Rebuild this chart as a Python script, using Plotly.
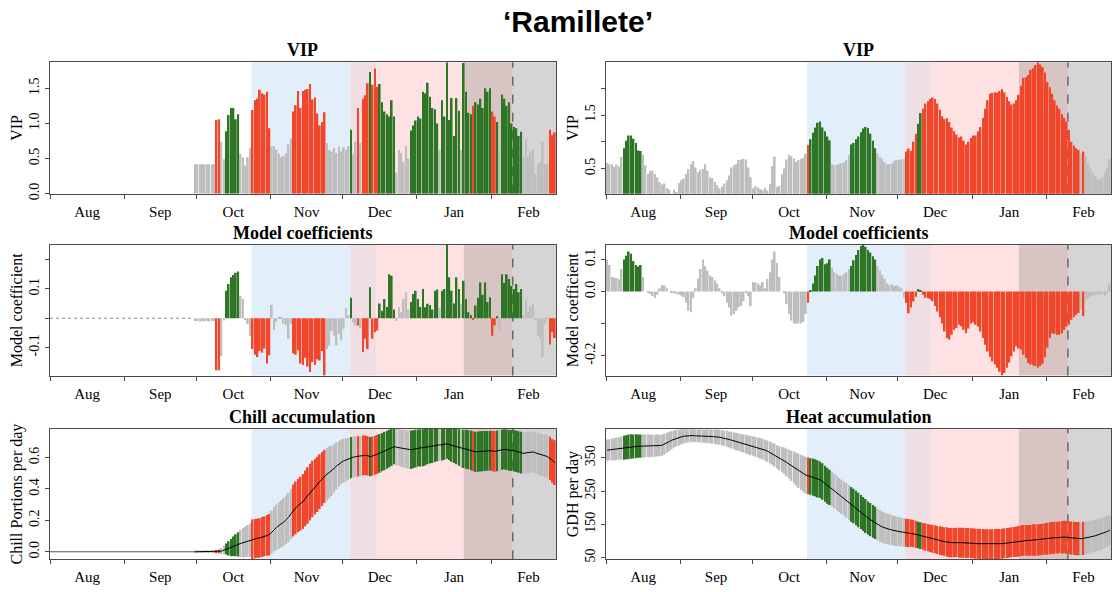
import pandas as pd
import plotly.graph_objects as go

# ---------------------------------------------------------------------------
# Season layout (days counted from 1 August)
# ---------------------------------------------------------------------------
SEASON_START = pd.Timestamp("2018-08-01")
SEASON_DAYS = 211
LEFT_FIRST_DAY = 60          # first day with chill-model results
VIP_THRESHOLD = 0.8

CHILL_PHASE = (84, 136)
FORCING_PHASE = (125, 193)
BLOOM_WINDOW = (172.5, 211)
MEAN_BLOOM = 193

# ---------------------------------------------------------------------------
# Chill model (days 60 .. 210)
# ---------------------------------------------------------------------------
VIP_LEFT = [
    0.42, 0.42, 0.42, 0.42, 0.42, 0.42, 0.42, 0.42, 0.42,
    1.05, 1.06, 0.74, 0.49,
    0.89, 1.12, 1.22, 1.22, 1.06, 1.13,
    0.57, 0.52, 0.40, 0.52, 0.65,
    1.19, 1.33, 1.35, 1.48, 1.43, 1.41, 1.45, 0.93,
    0.67, 0.68, 0.63, 0.57, 0.52, 0.54, 0.58, 0.70, 0.78,
    1.17, 1.26, 1.46, 1.22, 1.46, 1.48, 1.49, 1.56, 1.34, 1.37, 1.14, 0.97, 1.02, 1.16,
    0.72, 0.62, 0.60, 0.65, 0.58, 0.67, 0.60, 0.66, 0.62, 0.68,
    0.91, 0.56, 0.74, 1.22, 0.72, 1.35, 1.40, 1.57, 1.73, 1.55, 1.78, 1.52, 1.56, 1.30,
    1.17, 1.13, 1.10, 1.33, 1.10,
    0.30, 0.62, 0.58, 0.45, 0.68, 0.50,
    0.90, 0.97, 1.04, 1.10, 1.07, 1.45, 1.43, 1.58, 1.38, 1.22, 1.20, 1.00, 0.62, 1.33,
    1.10, 1.87, 1.05, 1.36, 0.82, 1.36, 1.18, 0.62, 1.86, 1.45,
    1.15, 1.13, 1.25, 1.30, 1.27, 1.35, 1.22, 1.50, 1.45, 1.50, 1.17, 1.10, 1.02, 0.62,
    1.41, 1.35, 1.25, 1.30, 1.00, 0.95, 0.93, 0.82, 0.88,
    0.52, 0.78, 0.52, 0.60, 0.63, 0.28, 0.42, 0.45, 0.74, 0.42, 0.43, 0.91, 0.83, 0.87,
]

COEF_LEFT = [
    -0.010, -0.010, -0.011, -0.010, -0.011, -0.010, -0.011, -0.010, -0.010,
    -0.178, -0.178, -0.130, -0.008,
    0.094, 0.117, 0.140, 0.148, 0.155, 0.160,
    0.077, 0.066, -0.006, -0.020, -0.060,
    -0.105, -0.125, -0.133, -0.112, -0.118, -0.104, -0.155, -0.127,
    0.045, -0.040, -0.012, 0.005, 0.003, -0.020, -0.025, -0.070, -0.020,
    -0.120, -0.125, -0.110, -0.155, -0.160, -0.135, -0.165, -0.184, -0.150, -0.160,
    -0.140, -0.145, -0.112, -0.196,
    -0.105, -0.093, -0.045, -0.060, -0.093, -0.053, -0.076, -0.036, 0.035, 0.010,
    0.070, -0.015, -0.025, -0.025, -0.035, -0.116, -0.070, -0.105, 0.106, -0.070,
    -0.048, -0.042, 0.050, 0.025, 0.066, 0.038, 0.150, 0.145, 0.030,
    -0.010, 0.037, 0.020, 0.066, 0.089, 0.030,
    0.055, 0.083, 0.094, 0.066, 0.038, 0.100, 0.037, 0.049, 0.045, 0.030, 0.094, 0.098,
    0.035, 0.094, 0.100, 0.250, 0.140, 0.094, 0.050, 0.140, 0.100, 0.050, 0.128, 0.066,
    0.020, 0.010, -0.005, 0.043, 0.070, 0.122, 0.080, 0.122, 0.055, 0.072, -0.060, -0.025,
    0.007, -0.040, 0.150, 0.120, 0.150, 0.134, 0.110, 0.100, 0.117, 0.089, 0.100,
    0.010, 0.066, 0.020, 0.040, 0.050, -0.005, -0.060, -0.070, -0.133, -0.020, 0.002,
    -0.090, -0.048, -0.068,
]

CHILL_MEAN = [
    0.000, 0.000, 0.000, 0.000, 0.000, 0.000, 0.000, 0.000, 0.000,
    0.001, 0.002, 0.004, 0.010,
    0.017, 0.022, 0.027, 0.035, 0.042, 0.047,
    0.053, 0.058, 0.063, 0.069, 0.074,
    0.079, 0.084, 0.086, 0.088, 0.094, 0.099, 0.104, 0.109,
    0.125, 0.143, 0.155, 0.168, 0.178, 0.190, 0.205, 0.220, 0.242,
    0.263, 0.280, 0.295, 0.306, 0.320, 0.340, 0.358, 0.380, 0.400, 0.415, 0.430, 0.447,
    0.463, 0.480,
    0.495, 0.505, 0.516, 0.532, 0.547, 0.560, 0.573, 0.580, 0.585, 0.592,
    0.600, 0.603, 0.606, 0.608, 0.610, 0.613, 0.615, 0.612, 0.606, 0.610, 0.615, 0.620,
    0.627, 0.635, 0.642, 0.650, 0.657, 0.664, 0.670,
    0.666, 0.663, 0.660, 0.657, 0.655, 0.653,
    0.650, 0.653, 0.657, 0.661, 0.662, 0.663, 0.666, 0.670, 0.672, 0.674, 0.677, 0.680,
    0.681, 0.682, 0.685, 0.688, 0.683, 0.678, 0.674, 0.670, 0.664, 0.659, 0.656, 0.653,
    0.650, 0.646, 0.641, 0.636, 0.638, 0.640, 0.641, 0.642, 0.643, 0.644, 0.642, 0.640,
    0.643, 0.646, 0.650, 0.653, 0.650, 0.646, 0.645, 0.644, 0.640, 0.636, 0.631,
    0.627, 0.630, 0.632, 0.634, 0.636, 0.630, 0.625, 0.620, 0.615, 0.610, 0.606, 0.595,
    0.579, 0.568,
]

CHILL_SD = [
    0.008, 0.008, 0.008, 0.008, 0.008, 0.008, 0.008, 0.008, 0.008,
    0.010, 0.012, 0.020, 0.028,
    0.035, 0.045, 0.055, 0.062, 0.070, 0.077,
    0.088, 0.094, 0.098, 0.102, 0.108,
    0.127, 0.125, 0.124, 0.125, 0.127, 0.128, 0.130, 0.132,
    0.138, 0.142, 0.145, 0.148, 0.150, 0.153, 0.155, 0.158, 0.160,
    0.165, 0.168, 0.170, 0.172, 0.175, 0.178, 0.180, 0.180, 0.180, 0.178, 0.176, 0.174,
    0.172, 0.170,
    0.168, 0.165, 0.160, 0.155, 0.150, 0.146, 0.142, 0.140, 0.137, 0.135,
    0.132, 0.130, 0.130, 0.128, 0.128, 0.127, 0.126, 0.126, 0.125, 0.125, 0.124, 0.124,
    0.123, 0.122, 0.122, 0.121, 0.120, 0.118, 0.113,
    0.115, 0.117, 0.118, 0.120, 0.121, 0.122,
    0.122, 0.121, 0.120, 0.118, 0.118, 0.118, 0.116, 0.113, 0.110, 0.108, 0.105, 0.103,
    0.101, 0.100, 0.098, 0.095, 0.099, 0.104, 0.108, 0.112, 0.116, 0.120, 0.122, 0.124,
    0.125, 0.126, 0.127, 0.128, 0.128, 0.128, 0.128, 0.128, 0.127, 0.127, 0.128, 0.130,
    0.130, 0.129, 0.128, 0.128, 0.129, 0.130, 0.131, 0.132, 0.132, 0.132, 0.133,
    0.133, 0.132, 0.132, 0.131, 0.131, 0.132, 0.133, 0.133, 0.134, 0.135, 0.136, 0.138,
    0.140, 0.142,
]

# ---------------------------------------------------------------------------
# Heat model (days 0 .. 210)
# ---------------------------------------------------------------------------
VIP_RIGHT = [
    0.61, 0.58, 0.58, 0.53, 0.57, 0.54, 0.72,
    0.88, 1.02, 1.12, 1.12, 1.06, 0.98, 0.84, 0.83,
    0.76, 0.56, 0.40, 0.46, 0.46, 0.40, 0.34, 0.25, 0.20, 0.22, 0.13, 0.11, 0.03, 0.11,
    0.06, 0.23,
    0.28, 0.31, 0.40, 0.49, 0.58, 0.64, 0.52, 0.43, 0.48, 0.49, 0.58, 0.46, 0.34, 0.32,
    0.25, 0.19, 0.13, 0.16, 0.22, 0.28, 0.37, 0.52, 0.56, 0.58, 0.66, 0.67, 0.68, 0.67,
    0.52, 0.34,
    0.13, 0.17, 0.15, 0.12, 0.10, 0.14, 0.09, 0.21, 0.55, 0.72, 0.16, 0.18, 0.40, 0.50,
    0.67, 0.76, 0.73, 0.69, 0.63, 0.66, 0.68, 0.70, 0.78,
    0.94, 1.05, 1.17, 1.27, 1.36, 1.38, 1.27, 1.20, 1.10, 1.03,
    0.58, 0.56, 0.57, 0.58, 0.60, 0.62, 0.66, 0.76,
    0.95, 0.98, 1.05, 1.10, 1.18, 1.25, 1.28, 1.26, 1.15, 1.02, 0.88,
    0.78, 0.72, 0.68, 0.62, 0.58, 0.58, 0.60, 0.64, 0.66, 0.67, 0.67, 0.68,
    0.82, 0.87, 0.83, 1.00, 1.15, 1.34, 1.54,
    1.62, 1.72, 1.76, 1.80, 1.83, 1.80, 1.72, 1.60, 1.48, 1.43, 1.44, 1.37, 1.27, 1.20,
    1.14, 1.08, 1.10, 1.02, 0.95, 1.00, 1.07, 1.12, 1.12, 1.20, 1.28, 1.45, 1.62, 1.78,
    1.90, 1.92, 1.93, 1.92, 1.95, 1.99, 1.93, 1.84, 1.76, 1.70, 1.72, 1.78, 1.88, 2.05,
    2.20, 2.21, 2.25, 2.35, 2.38, 2.44, 2.49, 2.45, 2.40, 2.30, 2.12, 2.02, 1.90, 1.78,
    1.68, 1.62, 1.52, 1.45, 1.38, 1.22, 1.00, 0.93, 0.88, 0.85,
    0.78, 0.82,
    0.72, 0.60, 0.50, 0.42, 0.36, 0.30, 0.29, 0.34, 0.42, 0.52, 0.68,
]

COEF_RIGHT = [
    0.100, 0.083, 0.045, 0.043, 0.042, 0.038, 0.070,
    0.100, 0.112, 0.125, 0.118, 0.095, 0.083, 0.078, 0.083,
    0.045, 0.000, -0.003, -0.008, -0.015, -0.020, -0.010, 0.010, 0.020, 0.020, 0.010,
    0.000, -0.002, -0.005, -0.008, -0.010,
    -0.012, -0.018, -0.035, -0.060, -0.065, -0.020, 0.010, 0.040, 0.070, 0.100, 0.080,
    0.065, 0.050, 0.045, 0.035, 0.025, 0.010, -0.005, -0.015, -0.035, -0.050, -0.075,
    -0.070, -0.060, -0.050, -0.045, -0.030, -0.005, -0.015, -0.045,
    0.030, 0.028, 0.025, 0.020, 0.030, 0.010, 0.040, 0.060, 0.100, 0.125, 0.090, 0.045,
    0.000, -0.005, -0.040, -0.070, -0.090, -0.100, -0.100, -0.100, -0.100, -0.095, -0.070,
    -0.035, 0.005, 0.025, 0.050, 0.080, 0.100, 0.105, 0.085, 0.088, 0.100,
    0.075, 0.060, 0.055, 0.050, 0.050, 0.055, 0.060, 0.070,
    0.080, 0.098, 0.114, 0.130, 0.142, 0.145, 0.140, 0.130, 0.122, 0.110, 0.100,
    0.080, 0.067, 0.052, 0.040, 0.026, 0.020, 0.024, 0.017, 0.020, 0.015, 0.010, -0.020,
    -0.036, -0.068, -0.050, -0.031, -0.016, 0.008, 0.004, -0.010, -0.019, -0.021,
    -0.024, -0.030, -0.045, -0.062, -0.080, -0.100, -0.125, -0.145, -0.150, -0.135,
    -0.120, -0.114, -0.104, -0.108, -0.119, -0.130, -0.115, -0.100, -0.096, -0.104,
    -0.110, -0.125, -0.145, -0.166, -0.187, -0.204, -0.218, -0.228, -0.238, -0.250,
    -0.262, -0.254, -0.238, -0.222, -0.202, -0.187, -0.171, -0.178, -0.181, -0.197,
    -0.207, -0.223, -0.228, -0.230, -0.233, -0.238, -0.232, -0.225, -0.205, -0.175,
    -0.145, -0.130, -0.132, -0.135, -0.135, -0.130, -0.119, -0.109, -0.104, -0.088,
    -0.080, -0.073, -0.067, -0.055, -0.076, -0.026, -0.022, -0.016, -0.013, -0.010,
    -0.008, -0.010, -0.007, -0.013, -0.005, 0.026,
]

HEAT_MEAN = [
    373, 374, 375, 376, 377, 378, 379, 380, 382, 383,
    384, 384, 385, 385, 385, 385, 386, 386, 386, 386,
    386, 387, 387, 388, 391, 395, 399, 403, 406, 409,
    411, 413, 415, 416, 416, 417, 417, 416, 416, 416,
    415, 415, 415, 414, 414, 413, 413, 412, 410, 409,
    407, 405, 403, 401, 399, 397, 395, 393, 391, 389,
    387, 385, 383, 381, 379, 376, 373, 370, 366, 362,
    358, 353, 349, 345, 341, 336, 331, 326, 321, 316,
    311, 306, 302, 298, 296, 294, 292, 290, 287, 284,
    279, 272, 266, 261, 256, 250, 244, 238, 233, 228,
    222, 216, 210, 205, 199, 193, 187, 181, 175, 169,
    164, 159, 155, 150, 146, 142, 139, 137, 135, 133,
    131, 129, 128, 127, 126, 125, 124, 124, 122, 120,
    118, 116, 114, 112, 110, 108, 107, 105, 103, 101,
    100, 98, 97, 95, 95, 95, 96, 95, 95, 95,
    94, 94, 93, 93, 92, 92, 91, 91, 90, 90,
    90, 90, 91, 91, 91, 92, 93, 94, 95, 96,
    97, 98, 99, 101, 102, 102, 102, 102, 103, 103,
    103, 104, 105, 106, 107, 108, 109, 110, 110, 111,
    111, 112, 111, 110, 109, 108, 107, 107, 107, 108,
    109, 110, 112, 114, 116, 118, 120, 123, 126, 129,
    132,
]

HEAT_SD = [
    32, 32, 33, 33, 34, 34, 35,
    36, 36, 37, 37, 36, 36, 35, 35,
    35, 34, 34, 34, 33, 33, 33, 32, 32,
    31, 30, 29, 27, 26, 25, 24,
    23, 22, 21, 20, 20, 19, 19, 19, 20, 20, 20, 21, 21, 21, 22, 22, 22, 23, 23, 24,
    24, 25, 25, 26, 26, 27, 27, 28, 28, 29,
    29, 30, 30, 31, 31, 32, 32, 33, 33, 34,
    35, 36, 38, 40, 42, 44, 46, 48, 50, 52, 53, 54, 55,
    55, 55, 56, 56, 56, 55, 55, 54, 54, 53,
    53, 52, 52, 51, 51, 51, 52, 52,
    52, 52, 52, 52, 51, 51, 51, 50, 50, 49, 49,
    48, 48, 47, 47, 46, 46, 45, 45, 44, 44, 43, 43,
    42, 42, 41, 41, 41, 40, 40, 40, 41, 41, 41, 42,
    42, 42, 43, 43, 43, 44, 44, 44, 44, 44, 45, 45, 45, 45, 45, 45, 45,
    45, 45, 45, 45, 45, 45, 45, 45, 45, 45, 45, 45, 45, 45, 45, 45, 45,
    45, 46, 46, 46, 46, 46, 46, 47, 47, 47, 47, 47, 47, 48, 48, 48, 48, 48, 48, 49, 49,
    49, 49,
    50, 50, 50, 50, 50, 50, 49, 49, 49, 48, 48, 48, 48, 47, 47, 47, 47,
]

for series in (VIP_LEFT, COEF_LEFT, CHILL_MEAN, CHILL_SD):
    assert len(series) == SEASON_DAYS - LEFT_FIRST_DAY, len(series)
for series in (VIP_RIGHT, COEF_RIGHT, HEAT_MEAN, HEAT_SD):
    assert len(series) == SEASON_DAYS, len(series)

# ---------------------------------------------------------------------------
# Styling
# ---------------------------------------------------------------------------
W, H = 1112, 592
SERIF = "Liberation Serif"
SANS = "Liberation Sans"
RED, GREEN, GREY = "#F2462A", "#2E7525", "#BEBEBE"
AXIS_COLOR = "#4a4a4a"

PHASE_COLORS = {
    ("chill",): "#E2EFFB",
    ("chill", "forcing"): "#EFDFE4",
    ("forcing",): "#FEE2E3",
    ("forcing", "bloom"): "#D8C5C3",
    ("bloom",): "#D5D5D5",
}

LEFT_X = (50, 556)
RIGHT_X = (606, 1111)
ROWS_Y = [(63, 196), (248, 380), (434, 566)]


def px_x(a, b):
    return [a / W, b / W]


def px_y(top, bottom):
    return [1 - bottom / H, 1 - top / H]


def to_date(day):
    return SEASON_START + pd.to_timedelta(day, unit="D")


def centres(first_day, n):
    return [to_date(first_day + i + 0.5) for i in range(n)]


def sig_colors(vip, coef):
    return [(RED if c < 0 else GREEN) if v > VIP_THRESHOLD else GREY
            for v, c in zip(vip, coef)]


BAR_WIDTH_MS = 0.72 * 86400000

left_cols = sig_colors(VIP_LEFT, COEF_LEFT)
right_cols = sig_colors(VIP_RIGHT, COEF_RIGHT)
x_left = centres(LEFT_FIRST_DAY, len(VIP_LEFT))
x_right = centres(0, len(VIP_RIGHT))

chill_lo = [m - s for m, s in zip(CHILL_MEAN, CHILL_SD)]
chill_hi = [m + s for m, s in zip(CHILL_MEAN, CHILL_SD)]
heat_lo = [m - s for m, s in zip(HEAT_MEAN, HEAT_SD)]
heat_hi = [m + s for m, s in zip(HEAT_MEAN, HEAT_SD)]

panels = [
    dict(n=1, xdom=LEFT_X, row=0, title="VIP", ytitle="VIP",
         yrange=[0, max(VIP_LEFT)],
         ticks=([0, 0.5, 1.0, 1.5], ["0.0", "0.5", "1.0", "1.5"])),
    dict(n=2, xdom=RIGHT_X, row=0, title="VIP", ytitle="VIP",
         yrange=[min(VIP_RIGHT), max(VIP_RIGHT)],
         ticks=([0.5, 1.0, 1.5, 2.0], ["0.5", "", "1.5", ""])),
    dict(n=3, xdom=LEFT_X, row=1, title="Model coefficients", ytitle="Model coefficient",
         yrange=[min(COEF_LEFT), max(COEF_LEFT)],
         ticks=([-0.1, 0.0, 0.1, 0.2], ["-0.1", "", "0.1", ""])),
    dict(n=4, xdom=RIGHT_X, row=1, title="Model coefficients", ytitle="Model coefficient",
         yrange=[min(COEF_RIGHT), max(COEF_RIGHT)],
         ticks=([-0.2, -0.1, 0.0, 0.1], ["-0.2", "", "0.0", "0.1"])),
    dict(n=5, xdom=LEFT_X, row=2, title="Chill accumulation", ytitle="Chill Portions per day",
         yrange=[min(chill_lo), max(chill_hi)],
         ticks=([0.0, 0.2, 0.4, 0.6], ["0.0", "0.2", "0.4", "0.6"])),
    dict(n=6, xdom=RIGHT_X, row=2, title="Heat accumulation", ytitle="GDH per day",
         yrange=[min(heat_lo), max(heat_hi)],
         ticks=([50, 150, 250, 350], ["50", "150", "250", "350"])),
]


def axis_ids(n):
    s = "" if n == 1 else str(n)
    return "x" + s, "y" + s, "xaxis" + s, "yaxis" + s


fig = go.Figure()


def add_bars(n, x, y, colors, base=None):
    xa, ya, _, _ = axis_ids(n)
    fig.add_trace(go.Bar(x=x, y=y, base=base, width=BAR_WIDTH_MS,
                         marker=dict(color=colors, line=dict(width=0)),
                         xaxis=xa, yaxis=ya, showlegend=False, hoverinfo="skip"))


def add_line(n, x, y, color="black", dash="solid", width=1.0):
    xa, ya, _, _ = axis_ids(n)
    fig.add_trace(go.Scatter(x=x, y=y, mode="lines",
                             line=dict(color=color, width=width, dash=dash),
                             xaxis=xa, yaxis=ya, showlegend=False, hoverinfo="skip"))


# VIP
add_bars(1, x_left, VIP_LEFT, left_cols)
add_bars(2, x_right, VIP_RIGHT, right_cols)

# Model coefficients
add_line(3, [to_date(0), to_date(LEFT_FIRST_DAY)], [0, 0], color="#8a8a8a", dash="dot", width=1)
add_bars(3, x_left, COEF_LEFT, left_cols)
add_bars(4, x_right, COEF_RIGHT, right_cols)

# Chill and heat accumulation: mean +/- sd
add_bars(5, x_left, [2 * s for s in CHILL_SD], left_cols, base=chill_lo)
add_line(5, [to_date(0), to_date(LEFT_FIRST_DAY + 0.5)], [0, 0], color="#555555", width=1)
add_line(5, x_left, CHILL_MEAN)
add_bars(6, x_right, [2 * s for s in HEAT_SD], right_cols, base=heat_lo)
add_line(6, x_right, HEAT_MEAN)

# Phase shading
phases = {"chill": CHILL_PHASE, "forcing": FORCING_PHASE, "bloom": BLOOM_WINDOW}
edges = sorted({v for p in phases.values() for v in p})
segments = []
for a, b in zip(edges[:-1], edges[1:]):
    mid = (a + b) / 2
    active = tuple(k for k, (p0, p1) in phases.items() if p0 <= mid < p1)
    if active in PHASE_COLORS:
        segments.append((a, b, PHASE_COLORS[active]))

shapes = []
annotations = []
layout = {}
for p in panels:
    n = p["n"]
    xa, ya, xkey, ykey = axis_ids(n)
    for a, b, col in segments:
        shapes.append(dict(type="rect", xref=xa, yref=ya + " domain",
                           x0=to_date(a), x1=to_date(b), y0=0, y1=1,
                           fillcolor=col, line=dict(width=0), layer="below"))
    shapes.append(dict(type="line", xref=xa, yref=ya + " domain",
                       x0=to_date(MEAN_BLOOM), x1=to_date(MEAN_BLOOM), y0=0, y1=1,
                       line=dict(color="#333333", width=1, dash="dash"), layer="below"))

    top, bottom = ROWS_Y[p["row"]]
    xdom = px_x(*p["xdom"])
    layout[xkey] = dict(
        domain=xdom, anchor=ya, type="date",
        range=[to_date(0), to_date(SEASON_DAYS)],
        tick0=to_date(0), dtick="M1", tickformat="%b", ticklabelmode="period",
        ticks="outside", ticklen=4, tickcolor=AXIS_COLOR,
        showline=True, linecolor=AXIS_COLOR, linewidth=1, mirror=True,
        showgrid=False, zeroline=False,
        tickfont=dict(family=SERIF, size=15, color="black"),
    )
    tv, tt = p["ticks"]
    layout[ykey] = dict(
        domain=px_y(top, bottom), anchor=xa, range=p["yrange"],
        tickvals=tv, ticktext=tt, tickangle=-90,
        ticks="outside", ticklen=4, tickcolor=AXIS_COLOR,
        showline=True, linecolor=AXIS_COLOR, linewidth=1, mirror=True,
        showgrid=False, zeroline=False,
        tickfont=dict(family=SERIF, size=14, color="black"),
        title=dict(text=p["ytitle"], standoff=0,
                   font=dict(family=SERIF, size=16, color="black")),
    )
    annotations.append(dict(
        text="<b>%s</b>" % p["title"], xref="paper", yref="paper",
        x=(xdom[0] + xdom[1]) / 2, y=1 - (top - 12) / H,
        xanchor="center", yanchor="middle", showarrow=False,
        font=dict(family=SERIF, size=18, color="black"),
    ))

annotations.append(dict(
    text="<b>\u2018Ramillete\u2019</b>", xref="paper", yref="paper",
    x=578 / W, y=1 - 22 / H, xanchor="center", yanchor="middle", showarrow=False,
    font=dict(family=SANS, size=30, color="black"),
))

fig.update_layout(
    width=W, height=H,
    margin=dict(l=0, r=0, t=0, b=0),
    paper_bgcolor="white", plot_bgcolor="white",
    showlegend=False, shapes=shapes, annotations=annotations,
    **layout,
)

fig.write_html("out.html")
